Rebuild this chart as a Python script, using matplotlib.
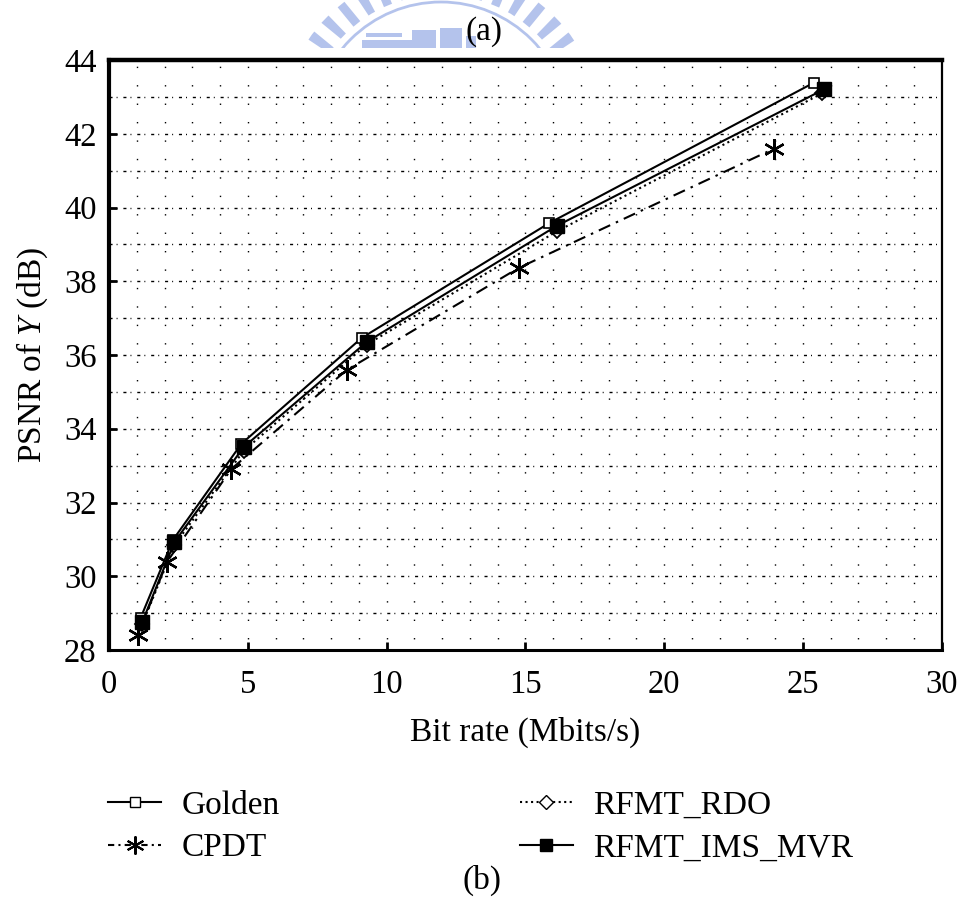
import matplotlib
matplotlib.use("Agg")
import matplotlib.pyplot as plt
from matplotlib.patches import Circle, Rectangle
from matplotlib.lines import Line2D

# Bit rate (Mbits/s) and PSNR of Y (dB) for each coding scheme
golden_rate = [1.14, 2.30, 4.77, 9.10, 15.87, 25.39]
golden_psnr = [28.87, 30.98, 33.59, 36.46, 39.58, 43.38]

cpdt_rate = [1.03, 2.10, 4.41, 8.56, 14.76, 23.95]
cpdt_psnr = [28.40, 30.40, 32.91, 35.59, 38.36, 41.59]

rdo_rate = [1.20, 2.36, 4.85, 9.28, 16.13, 25.71]
rdo_psnr = [28.70, 30.85, 33.40, 36.28, 39.35, 43.10]

ims_rate = [1.20, 2.36, 4.85, 9.28, 16.13, 25.78]
ims_psnr = [28.76, 30.93, 33.50, 36.35, 39.50, 43.21]

series_names = ["Golden", "CPDT", "RFMT_RDO", "RFMT_IMS_MVR"]
x_ticks = [0, 5, 10, 15, 20, 25, 30]
y_ticks = [28, 30, 32, 34, 36, 38, 40, 42, 44]

W, H = 961, 907
plt.rcParams["font.family"] = ["Liberation Serif", "DejaVu Serif"]
plt.rcParams["mathtext.fontset"] = "custom"
plt.rcParams["mathtext.it"] = "Liberation Serif:italic"
plt.rcParams["mathtext.rm"] = "Liberation Serif"

fig = plt.figure(figsize=(W / 100, H / 100), dpi=100)
fig.patch.set_facecolor("white")


def fx(px):
    return px / W


def fy(py):
    return 1 - py / H


# faint emblem watermark at the top
wm_color = "#b4c3ec"
clip = Rectangle((0, fy(48)), 1, 1 - fy(48), transform=fig.transFigure)
ring = Circle((441, H - 130), 148, transform=None, fill=False,
              edgecolor=wm_color, linewidth=18, linestyle=(0, (0.35, 0.45)))
ring.set_clip_path(clip)
fig.add_artist(ring)
inner = Circle((441, H - 130), 128, transform=None, fill=False,
               edgecolor=wm_color, linewidth=2.0)
inner.set_clip_path(clip)
fig.add_artist(inner)
for (x0, y0, w, h) in [(362, 40, 50, 8), (366, 33, 36, 4), (412, 30, 24, 18),
                       (440, 28, 22, 20), (466, 36, 10, 12)]:
    r = Rectangle((fx(x0), fy(y0 + h)), w / W, h / H, transform=fig.transFigure,
                  facecolor=wm_color, edgecolor="none")
    fig.add_artist(r)

fig.text(fx(484), fy(32), "(a)", ha="center", va="center", fontsize=24)
fig.text(fx(482), fy(880), "(b)", ha="center", va="center", fontsize=24)

ax = fig.add_axes([fx(109), fy(650), 832.5 / W, 590 / H])
ax.set_xlim(0, 30)
ax.set_ylim(28, 44)

# dotted grid
for xv in range(1, 30):
    ax.plot([xv, xv], [28, 44], color="black", linewidth=1.0,
            linestyle=(5.3, (1.0, 12.27)), zorder=1)
for yv in range(29, 44):
    ax.plot([0, 30], [yv, yv], color="black", linewidth=1.0,
            linestyle=(0, (2.2, 2.9, 0.7, 4.2)), zorder=1)

lw = 1.5
ax.plot(golden_rate, golden_psnr, color="black", linewidth=lw, linestyle="-",
        marker="s", markersize=6.5, markerfacecolor="white",
        markeredgecolor="black", markeredgewidth=1.2, zorder=4)
ax.plot(cpdt_rate, cpdt_psnr, color="black", linewidth=lw,
        linestyle=(0, (6, 3, 1.2, 3)), marker=(6, 2, 0), markersize=15,
        markeredgewidth=1.7, zorder=3)
ax.plot(rdo_rate, rdo_psnr, color="black", linewidth=lw, linestyle=":",
        marker="D", markersize=7.5, markerfacecolor="white",
        markeredgecolor="black", markeredgewidth=1.3, zorder=3)
ax.plot(ims_rate, ims_psnr, color="black", linewidth=lw, linestyle="-",
        marker="s", markersize=10.5, markerfacecolor="black",
        markeredgecolor="black", zorder=5)

ax.set_xticks(x_ticks)
ax.set_yticks(y_ticks)
ax.tick_params(direction="in", length=6, width=2, labelsize=23.5,
               top=False, right=False)
ax.tick_params(axis="x", pad=14)
ax.tick_params(axis="y", pad=9)
for side, w in [("left", 3), ("top", 3.2), ("bottom", 2.2), ("right", 1.6)]:
    ax.spines[side].set_linewidth(w)

ax.set_xlabel("Bit rate (Mbits/s)", fontsize=24, labelpad=12)
ax.set_ylabel("PSNR of $Y$ (dB)", fontsize=24, labelpad=10)

handles = [
    Line2D([], [], color="black", linewidth=lw, linestyle="-", marker="s",
           markersize=7, markerfacecolor="white", markeredgecolor="black"),
    Line2D([], [], color="black", linewidth=lw, linestyle=(0, (3, 2, 1, 2)),
           marker=(6, 2, 0), markersize=13, markeredgewidth=1.5),
    Line2D([], [], color="black", linewidth=lw, linestyle=":", marker="D",
           markersize=7.5, markerfacecolor="white", markeredgecolor="black"),
    Line2D([], [], color="black", linewidth=lw, linestyle="-", marker="s",
           markersize=8, markerfacecolor="black"),
]
fig.legend(handles, series_names, ncol=2, loc="center left",
           bbox_to_anchor=(fx(108), fy(827)), frameon=False, fontsize=24,
           handlelength=1.6, handletextpad=0.6, columnspacing=7.2,
           labelspacing=0.36, borderpad=0, borderaxespad=0)

fig.savefig("out.png", dpi=100, facecolor="white")
